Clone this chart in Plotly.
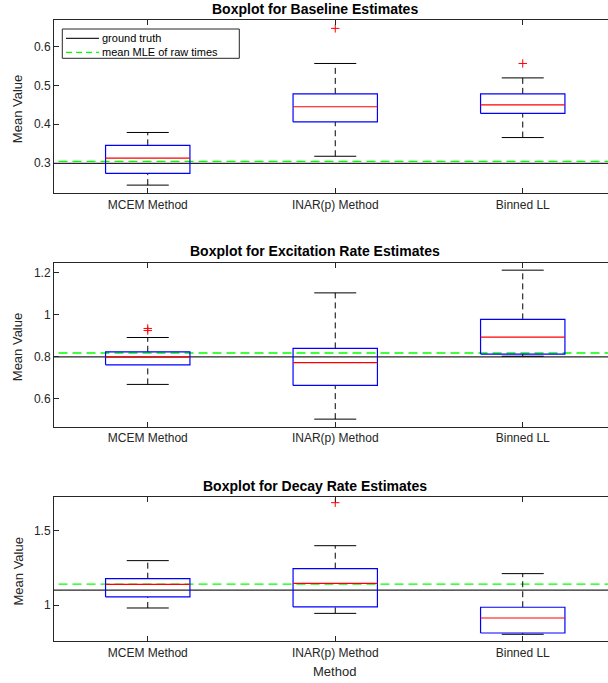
import plotly.graph_objects as go

# ---------------- data ----------------
methods = ["MCEM Method", "INAR(p) Method", "Binned LL"]
positions = [1, 2, 3]

baseline_q1 = [0.274, 0.406, 0.428]
baseline_med = [0.313, 0.445, 0.450]
baseline_q3 = [0.346, 0.478, 0.478]
baseline_lo = [0.244, 0.318, 0.366]
baseline_hi = [0.379, 0.556, 0.519]
baseline_out = [[], [0.646], [0.556]]
baseline_truth = 0.3
baseline_mle = 0.305

excit_q1 = [0.762, 0.664, 0.813]
excit_med = [0.799, 0.773, 0.894]
excit_q3 = [0.824, 0.840, 0.978]
excit_lo = [0.669, 0.504, 0.803]
excit_hi = [0.892, 1.104, 1.212]
excit_out = [[0.935, 0.925], [], []]
excit_truth = 0.8
excit_mle = 0.818

decay_q1 = [1.054, 0.987, 0.8125]
decay_med = [1.138, 1.145, 0.913]
decay_q3 = [1.176, 1.243, 0.985]
decay_lo = [0.980, 0.944, 0.804]
decay_hi = [1.297, 1.397, 1.210]
decay_out = [[], [1.685], []]
decay_truth = 1.1
decay_mle = 1.14

titles = ["Boxplot for Baseline Estimates",
          "Boxplot for Excitation Rate Estimates",
          "Boxplot for Decay Rate Estimates"]
yticks = [[0.3, 0.4, 0.5, 0.6], [0.6, 0.8, 1.0, 1.2], [1.0, 1.5]]
yticktext = [["0.3", "0.4", "0.5", "0.6"], ["0.6", "0.8", "1", "1.2"], ["1", "1.5"]]
yranges = [[0.223, 0.6675], [0.468, 1.2475], [0.757, 1.725]]

# ---------------- layout geometry (pixels) ----------------
W, H = 608, 683
FONT = "Liberation Sans, Arial, Helvetica, sans-serif"
AX = "#262626"
BOX_HALF = 0.225
CAP_HALF = 0.112
XRANGE = [0.5, 3.4547]

def px_x(p):
    return p / W

def px_y(p):
    return 1 - p / H

panels = [
    dict(q1=baseline_q1, med=baseline_med, q3=baseline_q3, lo=baseline_lo, hi=baseline_hi,
         out=baseline_out, truth=baseline_truth, mle=baseline_mle, top=20, bottom=193.3, title_y=9.5),
    dict(q1=excit_q1, med=excit_med, q3=excit_q3, lo=excit_lo, hi=excit_hi,
         out=excit_out, truth=excit_truth, mle=excit_mle, top=262.7, bottom=426.7, title_y=251),
    dict(q1=decay_q1, med=decay_med, q3=decay_q3, lo=decay_lo, hi=decay_hi,
         out=decay_out, truth=decay_truth, mle=decay_mle, top=496.7, bottom=641.3, title_y=486),
]

fig = go.Figure()
annotations = []
shapes = []

for k, p in enumerate(panels):
    xa = "x" if k == 0 else f"x{k+1}"
    ya = "y" if k == 0 else f"y{k+1}"
    # reference lines
    fig.add_trace(go.Scatter(x=[0.3, 3.7], y=[p["truth"], p["truth"]], mode="lines",
                             line=dict(color="#262626", width=1.2), xaxis=xa, yaxis=ya,
                             showlegend=False, hoverinfo="skip"))
    fig.add_trace(go.Scatter(x=[0.3, 3.7], y=[p["mle"], p["mle"]], mode="lines",
                             line=dict(color="#00ff00", width=1.4, dash="9px,5px"), xaxis=xa, yaxis=ya,
                             showlegend=False, hoverinfo="skip"))
    for i, x in enumerate(positions):
        q1, med, q3, lo, hi = p["q1"][i], p["med"][i], p["q3"][i], p["lo"][i], p["hi"][i]
        # whiskers (dashed)
        fig.add_trace(go.Scatter(x=[x, x, None, x, x], y=[q3, hi, None, lo, q1], mode="lines",
                                 line=dict(color="black", width=1, dash="6px,4px"),
                                 xaxis=xa, yaxis=ya, showlegend=False, hoverinfo="skip"))
        # caps
        fig.add_trace(go.Scatter(x=[x - CAP_HALF, x + CAP_HALF, None, x - CAP_HALF, x + CAP_HALF],
                                 y=[hi, hi, None, lo, lo], mode="lines",
                                 line=dict(color="black", width=1),
                                 xaxis=xa, yaxis=ya, showlegend=False, hoverinfo="skip"))
        # box
        fig.add_trace(go.Scatter(x=[x - BOX_HALF, x + BOX_HALF, x + BOX_HALF, x - BOX_HALF, x - BOX_HALF],
                                 y=[q1, q1, q3, q3, q1], mode="lines",
                                 line=dict(color="#0000ff", width=1.2),
                                 xaxis=xa, yaxis=ya, showlegend=False, hoverinfo="skip"))
        # median
        fig.add_trace(go.Scatter(x=[x - BOX_HALF, x + BOX_HALF], y=[med, med], mode="lines",
                                 line=dict(color="#ff0000", width=1.2),
                                 xaxis=xa, yaxis=ya, showlegend=False, hoverinfo="skip"))
        # outliers
        if p["out"][i]:
            fig.add_trace(go.Scatter(x=[x] * len(p["out"][i]), y=p["out"][i], mode="markers",
                                     marker=dict(symbol="cross-thin", size=6,
                                                 line=dict(color="#ff0000", width=1)),
                                     xaxis=xa, yaxis=ya, showlegend=False, hoverinfo="skip"))

    dom_y = [px_y(p["bottom"]), px_y(p["top"])]
    axis_common = dict(showline=True, linecolor=AX, linewidth=1, ticks="inside", ticklen=5,
                       tickcolor=AX, tickwidth=1, showgrid=False, zeroline=False,
                       tickfont=dict(family=FONT, size=12, color=AX))
    xkey = "xaxis" if k == 0 else f"xaxis{k+1}"
    ykey = "yaxis" if k == 0 else f"yaxis{k+1}"
    fig.update_layout(**{
        xkey: dict(axis_common, domain=[px_x(54), 1], range=XRANGE, anchor=ya,
                   tickvals=positions, ticktext=methods, mirror="ticks"),
        ykey: dict(axis_common, domain=dom_y, range=yranges[k], anchor=xa,
                   tickvals=yticks[k], ticktext=yticktext[k], mirror=False),
    })
    annotations.append(dict(text="<b>" + titles[k] + "</b>", x=px_x(315), y=px_y(p["title_y"]),
                            xref="paper", yref="paper", showarrow=False, xanchor="center",
                            yanchor="middle", font=dict(family=FONT, size=14, color="black")))
    annotations.append(dict(text="Mean Value", x=px_x(17.5), y=px_y((p["top"] + p["bottom"]) / 2 + 3),
                            xref="paper", yref="paper", showarrow=False, textangle=-90,
                            xanchor="center", yanchor="middle",
                            font=dict(family=FONT, size=13, color=AX)))

annotations.append(dict(text="Method", x=px_x(334), y=px_y(671), xref="paper", yref="paper",
                        showarrow=False, xanchor="center", yanchor="middle",
                        font=dict(family=FONT, size=13, color=AX)))

# legend (drawn manually in the first panel)
shapes.append(dict(type="rect", xref="paper", yref="paper", x0=px_x(62.3), x1=px_x(239.3),
                   y0=px_y(58.3), y1=px_y(29), line=dict(color=AX, width=1), fillcolor="white",
                   layer="above"))
shapes.append(dict(type="line", xref="paper", yref="paper", x0=px_x(66), x1=px_x(99),
                   y0=px_y(38.3), y1=px_y(38.3), line=dict(color="#262626", width=1.2)))
shapes.append(dict(type="line", xref="paper", yref="paper", x0=px_x(66), x1=px_x(99),
                   y0=px_y(52.3), y1=px_y(52.3), line=dict(color="#00ff00", width=1.2, dash="6px,4px")))
annotations.append(dict(text="ground truth", x=px_x(100), y=px_y(38.3), xref="paper", yref="paper",
                        showarrow=False, xanchor="left", yanchor="middle",
                        font=dict(family=FONT, size=11, color="black")))
annotations.append(dict(text="mean MLE of raw times", x=px_x(100), y=px_y(52.3), xref="paper",
                        yref="paper", showarrow=False, xanchor="left", yanchor="middle",
                        font=dict(family=FONT, size=11, color="black")))

fig.update_layout(width=W, height=H, margin=dict(l=0, r=0, t=0, b=0),
                  paper_bgcolor="white", plot_bgcolor="white", showlegend=False,
                  annotations=annotations, shapes=shapes)

fig.write_html("out.html", config={"displayModeBar": False},
               post_script="document.body.style.margin='0';document.body.style.overflow='hidden';")
